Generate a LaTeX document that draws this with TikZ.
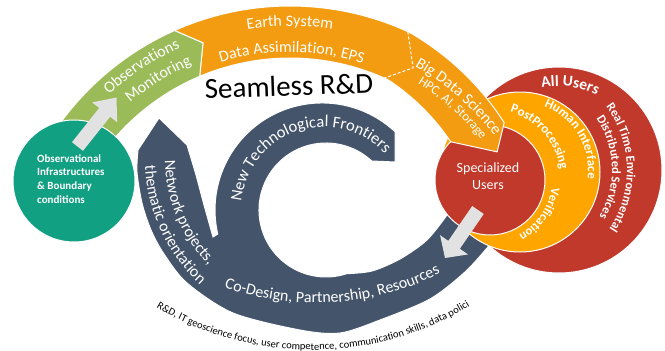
\documentclass[tikz,border=0pt]{standalone}
\usepackage{fontspec}
\setmainfont{Carlito}
\usetikzlibrary{decorations.text,calc}
\definecolor{tealc}{HTML}{12A083}
\definecolor{greenb}{HTML}{9BBB59}
\definecolor{orangeb}{HTML}{F39C12}
\definecolor{ringor}{HTML}{FFA500}
\definecolor{redc}{HTML}{C0392B}
\definecolor{bluec}{HTML}{44546A}
\definecolor{grayarr}{HTML}{E2E2E2}
% #1 cx, #2 cy, #3 r, #4 start, #5 end, #6 colour, #7 font, #8 text
\newcommand\mycurvtext[8]{\path[decorate,decoration={text along path,text align=center,text color=#6,text={|#7|#8}}] ([shift={(#1,#2)}]#4:#3) arc[start angle=#4,end angle=#5,radius=#3];}
\begin{document}
\begin{tikzpicture}[x=1pt,y=1pt,
  declare function={ro(\t)=284-0.45*max(0,65-\t); ri(\t)=232-0.6*max(0,65-\t);},
  wb/.style={draw=white, line width=1pt}]
\useasboundingbox (0,0) rectangle (665,-351);
\fill[white] (0,0) rectangle (665,-351);

% dark blue spiral
\fill[bluec, wb] (395,-131.7) arc[start angle=47, end angle=193, radius=107]
  -- plot[smooth] coordinates {(213,-237) (204,-205) (196,-175) (187,-145)}
  -- (159,-118)
  -- plot[smooth] coordinates {(138,-150) (137,-172) (142,-203) (151,-230) (164,-254) (187,-283) (233,-313) (300,-330) (340,-333) (380,-320) (430,-299) (465,-272) (487,-248)}
  -- (505,-228) -- (472,-198) -- (447,-215)
  -- plot[smooth] coordinates {(447,-215) (427,-240) (400,-259) (372,-271) (346.7,-273.7)}
  arc[start angle=288, end angle=47, radius=67]
  -- (395,-162) -- cycle;

% user circles
\fill[redc, wb] (559,-170) circle[radius=103];
\fill[ringor, wb] (520,-172) circle[radius=80];
\fill[redc, wb] (490,-180) circle[radius=55];

% orange band
\fill[orangeb, wb] plot[domain=114:38, samples=60, variable=\t] ({290+ro(\t)*cos(\t)},{-290+ro(\t)*sin(\t)})
  -- ({290+249*cos(33.7)},{-290+249*sin(33.7)})
  -- plot[domain=42.7:112.9, samples=60, variable=\t] ({290+ri(\t)*cos(\t)},{-290+ri(\t)*sin(\t)})
  -- ({290+262*cos(109.4)},{-290+262*sin(109.4)}) -- cycle;
\draw[white, line width=1pt, dash pattern=on 3pt off 2pt]
  ({290+ro(65.5)*cos(65.5)},{-290+ro(65.5)*sin(65.5)}) -- ({290+254*cos(61)},{-290+254*sin(61)})
  -- ({290+ri(66)*cos(66)},{-290+ri(66)*sin(66)});

% green band
\fill[greenb, wb] plot[domain=155:114, samples=40, variable=\t] ({290+ro(\t)*cos(\t)},{-290+ro(\t)*sin(\t)})
  -- ({290+262*cos(109.4)},{-290+262*sin(109.4)})
  -- plot[domain=112.9:155, samples=40, variable=\t] ({290+ri(\t)*cos(\t)},{-290+ri(\t)*sin(\t)}) -- cycle;

% teal circle
\fill[tealc, wb] (74,-181) circle[radius=61];

% gray arrows
\coordinate (b1) at (77.5,-146.5);
\coordinate (t1) at (116.5,-97.5);
\coordinate (h1) at ($(t1)!19pt!(b1)$);
\fill[grayarr] ($(b1)!7pt!90:(t1)$) -- ($(h1)!7pt!90:(t1)$) -- ($(h1)!16pt!90:(t1)$) -- (t1)
  -- ($(h1)!16pt!-90:(t1)$) -- ($(h1)!7pt!-90:(t1)$) -- ($(b1)!7pt!-90:(t1)$) -- cycle;
\coordinate (b2) at (478,-210);
\coordinate (t2) at (445,-258);
\coordinate (h2) at ($(t2)!16pt!(b2)$);
\fill[grayarr] ($(b2)!7pt!90:(t2)$) -- ($(h2)!7pt!90:(t2)$) -- ($(h2)!17pt!90:(t2)$) -- (t2)
  -- ($(h2)!17pt!-90:(t2)$) -- ($(h2)!7pt!-90:(t2)$) -- ($(b2)!7pt!-90:(t2)$) -- cycle;

% straight texts
\node[font=\fontsize{29}{29}\selectfont, rotate=2, inner sep=0] (seamless) at (289,-86) {Seamless R\&D};
\node[font=\bfseries\fontsize{11}{13.7}\selectfont, text=white, align=left, anchor=west, inner sep=0] (obsinfra) at (37,-179) {Observational\\Infrastructures\\\& Boundary\\conditions};
\node[font=\fontsize{14}{17}\selectfont, text=white, align=center, inner sep=0] (specusers) at (488,-176) {Specialized\\Users};

% curved texts on the top band
\mycurvtext{290}{-290}{266}{151.6}{95.6}{white}{\fontsize{16}{16}\selectfont}{Observations}
\mycurvtext{290}{-290}{246}{152}{92}{white}{\fontsize{16}{16}\selectfont}{Monitoring}
\mycurvtext{290}{-290}{264}{115}{65}{white}{\fontsize{16}{16}\selectfont}{Earth System}
\mycurvtext{290}{-290}{238}{124.6}{54.6}{white}{\fontsize{16}{16}\selectfont}{Data Assimilation, EPS}
\mycurvtext{290}{-290}{256}{70}{27.8}{white}{\fontsize{16}{16}\selectfont}{Big Data Science}
\mycurvtext{290}{-290}{243}{68}{28.4}{white}{\fontsize{13}{13}\selectfont}{HPC, AI, Storage}

% curved texts on the blue spiral
\mycurvtext{324}{-210}{83}{190}{27}{white}{\fontsize{16.5}{16.5}\selectfont}{New Technological Frontiers}
\mycurvtext{316}{-159}{151}{170}{235.2}{white}{\fontsize{16}{16}\selectfont}{Network projects,}
\mycurvtext{316}{-159}{171}{165}{244.6}{white}{\fontsize{16}{16}\selectfont}{thematic orientation}
\mycurvtext{316}{-28}{275}{240}{307.4}{white}{\fontsize{16}{16}\selectfont}{Co-Design, Partnership, Resources}
\mycurvtext{312}{-45}{305}{225}{315.5}{black}{\fontsize{10.5}{10.5}\selectfont}{R{\&}D, IT geoscience focus, user competence, communication skills, data polici}

% curved texts on the user circles
\mycurvtext{559}{-170}{84}{125}{40}{white}{\bfseries\fontsize{15.5}{15.5}\selectfont}{All Users}
\mycurvtext{520}{-170}{107}{50}{-47}{white}{\bfseries\fontsize{12.5}{12.5}\selectfont}{Real Time Environmental}
\mycurvtext{520}{-170}{92}{50}{-46.5}{white}{\bfseries\fontsize{12.5}{12.5}\selectfont}{Distributed Services}
\mycurvtext{520}{-170}{68}{75}{-13}{white}{\bfseries\fontsize{13}{13}\selectfont}{Human Interface}
\mycurvtext{490}{-180}{71}{100}{-18}{white}{\bfseries\fontsize{13}{13}\selectfont}{PostProcessing}
\mycurvtext{490}{-180}{62}{0}{-69}{white}{\bfseries\fontsize{12.5}{12.5}\selectfont}{Verification}
\end{tikzpicture}
\end{document}
